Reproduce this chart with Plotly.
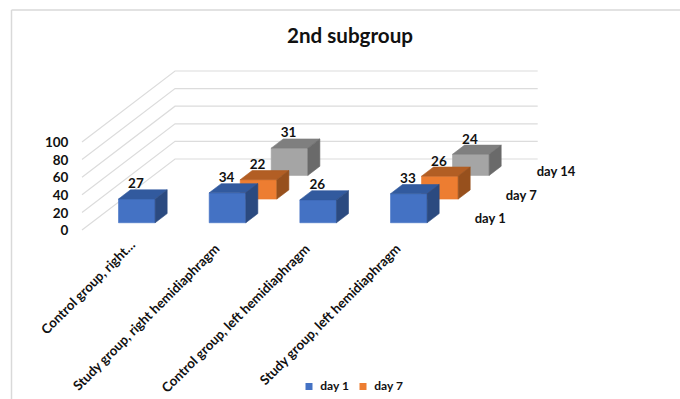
import plotly.graph_objects as go

# Chart data
title = "2nd subgroup"
categories = [
    "Control group, right\u2026",
    "Study group, right hemidiaphragm",
    "Control group, left hemidiaphragm",
    "Study group, left hemidiaphragm",
]
series_names = ["day 1", "day 7", "day 14"]
day_1 = [27, 34, 26, 33]
day_7 = [None, 22, None, 26]
day_14 = [None, 31, None, 24]
value_ticks = [0, 20, 40, 60, 80, 100]

# Colours for each series: front, top and side faces
face_colours = {
    "day 1": ("#4472C4", "#325A9E", "#2B4A80"),
    "day 7": ("#ED7D31", "#B25E24", "#97501D"),
    "day 14": ("#A5A5A5", "#7F7F7F", "#6A6A6A"),
}
GRID = "#DCDCDC"
INK = "#111111"
FONT = "Lato"

# Oblique projection: one step in depth shifts x by DX categories and y by DY value units
DX = 0.342
DY = 26.9
PX_PER_CAT = 90.67
PX_PER_VAL = 0.88
LEFT_PX, FLOOR_PX = 82, 230
W, H = 680, 399
CAT_GAP = 0.298
DEPTH_GAP = 0.306


def project(c, s, v):
    return c + s * DX, v + s * DY


def polygon(points):
    pts = [project(*p) for p in points]
    pts.append(pts[0])
    return [p[0] for p in pts], [p[1] for p in pts]


def from_px(px, py):
    return (px - LEFT_PX) / PX_PER_CAT, (FLOOR_PX - py) / PX_PER_VAL


fig = go.Figure()

# Gridlines run along the side wall and across the back wall
gx, gy = [], []
for t in value_ticks:
    for p in [(0, 0, t), (0, 3, t), (4, 3, t)]:
        x, y = project(*p)
        gx.append(x)
        gy.append(y)
    gx.append(None)
    gy.append(None)
fig.add_trace(go.Scatter(x=gx, y=gy, mode="lines", line=dict(color=GRID, width=1.2),
                         showlegend=False, hoverinfo="skip"))

# Bars are painted from the back row to the front row
rows = list(zip(range(3), series_names, [day_1, day_7, day_14]))
for s, name, values in reversed(rows):
    front, top, side = face_colours[name]
    for c, v in enumerate(values):
        if v is None:
            continue
        c0, c1 = c + CAT_GAP, c + 1 - CAT_GAP
        s0, s1 = s + DEPTH_GAP, s + 1 - DEPTH_GAP
        faces = [
            ([(c0, s0, 0), (c1, s0, 0), (c1, s0, v), (c0, s0, v)], front),
            ([(c0, s0, v), (c1, s0, v), (c1, s1, v), (c0, s1, v)], top),
            ([(c1, s0, 0), (c1, s1, 0), (c1, s1, v), (c1, s0, v)], side),
        ]
        for pts, colour in faces:
            px, py = polygon(pts)
            fig.add_trace(go.Scatter(x=px, y=py, mode="lines", fill="toself", fillcolor=colour,
                                     line=dict(color=colour, width=0.6),
                                     showlegend=False, hoverinfo="skip"))

# Value labels sit above the back edge of each bar top, centred over the front face
lx, ly, lt = [], [], []
for s, name, values in rows:
    for c, v in enumerate(values):
        if v is None:
            continue
        lx.append(project(c + 0.49, s + DEPTH_GAP, v)[0])
        ly.append(project(c + 0.49, s + 1 - DEPTH_GAP, v + 5.5)[1])
        lt.append(str(v))
fig.add_trace(go.Scatter(x=lx, y=ly, mode="text", text=lt,
                         textfont=dict(family=FONT, size=13.5, color=INK, weight="bold"),
                         showlegend=False, hoverinfo="skip"))

# Value axis labels
fig.add_trace(go.Scatter(x=[-0.15] * len(value_ticks), y=[t - 2 for t in value_ticks], mode="text",
                         text=[str(t) for t in value_ticks], textposition="middle left",
                         textfont=dict(family=FONT, size=13.5, color=INK, weight="bold"),
                         showlegend=False, hoverinfo="skip"))

# Depth axis labels
sx, sy = [], []
for s in range(3):
    x, y = project(4.16, s + 0.5, -2)
    sx.append(x)
    sy.append(y)
fig.add_trace(go.Scatter(x=sx, y=sy, mode="text", text=series_names, textposition="middle right",
                         textfont=dict(family=FONT, size=13, color=INK, weight="bold"),
                         showlegend=False, hoverinfo="skip"))

# Compact key along the bottom edge
for name, swatch_px in zip(series_names[:2], [309, 363]):
    kx, ky = from_px(swatch_px, 386.5)
    fig.add_trace(go.Scatter(x=[kx], y=[ky], mode="markers+text", name=name, text=["  " + name],
                             textposition="middle right",
                             marker=dict(symbol="square", size=7, color=face_colours[name][0]),
                             textfont=dict(family=FONT, size=12, color=INK, weight="bold"),
                             showlegend=False, hoverinfo="skip"))

# Rotated category labels, anchored at the end of the text; the truncated one sits a little further along
for c, label in enumerate(categories):
    truncated = label.endswith("\u2026")
    fig.add_annotation(x=c + (0.65 if truncated else 0.58), y=-5 if truncated else -9,
                       xref="x", yref="y", text=label, showarrow=False,
                       textangle=-45, xanchor="right", yanchor="top",
                       font=dict(family=FONT, size=13.3, color=INK, weight="bold"))

# Light frame along the top and left of the chart area
fig.add_shape(type="line", xref="paper", yref="paper", x0=11.5 / W, x1=1, y0=1 - 10 / H, y1=1 - 10 / H,
              line=dict(color="#D9D9D9", width=1.5))
fig.add_shape(type="line", xref="paper", yref="paper", x0=11.5 / W, x1=11.5 / W, y0=0, y1=1 - 10 / H,
              line=dict(color="#D9D9D9", width=1.5))

fig.update_layout(
    width=W, height=H,
    margin=dict(l=0, r=0, t=0, b=0),
    paper_bgcolor="white", plot_bgcolor="white",
    showlegend=False,
    title=dict(text=title, x=350 / W, xanchor="center", y=1 - 36 / H, yanchor="middle",
               font=dict(family=FONT, size=20.6, color=INK, weight="bold")),
    xaxis=dict(visible=False, domain=[0, 1],
               range=[-LEFT_PX / PX_PER_CAT, (W - LEFT_PX) / PX_PER_CAT]),
    yaxis=dict(visible=False, domain=[0, 1],
               range=[(FLOOR_PX - H) / PX_PER_VAL, FLOOR_PX / PX_PER_VAL]),
)

fig.write_html("out.html")
